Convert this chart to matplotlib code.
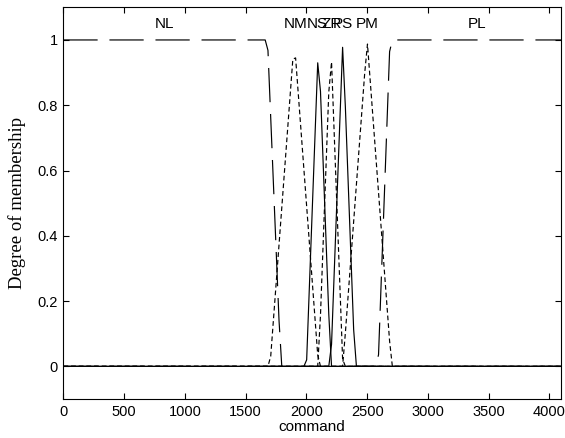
import numpy as np
import matplotlib
matplotlib.use("Agg")
import matplotlib.pyplot as plt

# Membership-function parameters (command axis, 12-bit range)
x_min, x_max = 0, 4095
n_points = 181
mf_names = ["NL", "NM", "NS", "ZR", "PS", "PM", "PL"]
mf_types = ["trap", "tri", "tri", "tri", "tri", "tri", "trap"]
mf_params = [
    [0, 0, 1680, 1790],
    [1700, 1900, 2100],
    [2000, 2100, 2200],
    [2100, 2200, 2300],
    [2200, 2300, 2400],
    [2300, 2500, 2700],
    [2590, 2688, 4095, 4095],
]
x_ticks = [0, 500, 1000, 1500, 2000, 2500, 3000, 3500, 4000]
y_ticks = [0, 0.2, 0.4, 0.6, 0.8, 1]
y_tick_labels = ["0", "0.2", "0.4", "0.6", "0.8", "1"]


def trimf(x, p):
    a, b, c = p
    left = (x - a) / (b - a)
    right = (c - x) / (c - b)
    return np.clip(np.minimum(left, right), 0, 1)


def trapmf(x, p):
    a, b, c, d = p
    left = (x - a) / (b - a) if b > a else np.ones_like(x)
    right = (d - x) / (d - c) if d > c else np.ones_like(x)
    return np.clip(np.minimum(np.minimum(left, 1.0), right), 0, 1)


x = np.linspace(x_min, x_max, n_points)

fig = plt.figure(figsize=(5.65, 4.38), dpi=100)
ax = fig.add_axes([0.1122, 0.089, 0.8807, 0.8943])

styles = {
    "NL": dict(dashes=(29, 10)),
    "NM": dict(dashes=(4, 2.5)),
    "NS": dict(linestyle="-"),
    "ZR": dict(dashes=(4, 2.5)),
    "PS": dict(linestyle="-"),
    "PM": dict(dashes=(4, 2.5)),
    "PL": dict(dashes=(29, 10)),
}

for name, typ, p in zip(mf_names, mf_types, mf_params):
    y = trimf(x, p) if typ == "tri" else trapmf(x, p)
    ax.plot(x, y, color="black", linewidth=0.85, **styles[name])
    idx = np.where(y == y.max())[0]
    cx = x[idx].mean()
    ax.text(cx, 1.05, name, ha="center", va="center",
            fontsize=11, family="Liberation Sans")

ax.set_xlim(x_min, x_max)
ax.set_ylim(-0.1, 1.1)
ax.set_xticks(x_ticks)
ax.set_xticklabels([str(t) for t in x_ticks])
ax.set_yticks(y_ticks)
ax.set_yticklabels(y_tick_labels)
ax.tick_params(direction="in", length=4, width=0.8, top=True, right=True,
               labelsize=10.5, pad=4)
for lab in ax.get_xticklabels() + ax.get_yticklabels():
    lab.set_family("Liberation Sans")
for s in ax.spines.values():
    s.set_linewidth(0.8)

ax.set_xlabel("command", fontsize=11, family="Liberation Sans", labelpad=1)
ax.set_ylabel("Degree of membership", fontsize=13.5, family="Liberation Serif",
              labelpad=8)

fig.savefig("out.png", dpi=100)
